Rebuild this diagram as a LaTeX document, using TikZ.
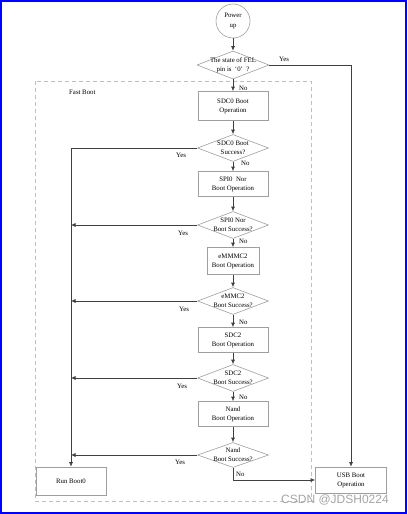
\documentclass[tikz,border=0pt]{standalone}
\usepackage{fontspec}
\setmainfont{Liberation Serif}
\newfontfamily\wmfont{Liberation Sans}
\usetikzlibrary{arrows.meta,shapes.geometric}

\tikzset{
  opbox/.style={draw=gray!75, line width=0.6pt, minimum width=70, minimum height=27,
    inner sep=0pt, align=center, font=\fontsize{6.8}{9}\selectfont},
  decide/.style={diamond, draw=gray!75, line width=0.6pt, shape aspect=2.6, inner sep=-6pt,
    minimum width=71, minimum height=27, align=center, font=\fontsize{6.8}{9}\selectfont},
  lab/.style={font=\fontsize{6.8}{8}\selectfont, inner sep=1pt},
  flow/.style={draw=black!75, line width=0.7pt}
}

\begin{document}
\begin{tikzpicture}[x=1pt,y=-1pt,>={Latex[length=4.5pt,width=4pt]}]
\useasboundingbox (0,0) rectangle (407,514);
\fill[white] (0,0) rectangle (407,514);

% fast boot area
\draw[dashed, dash pattern=on 4pt off 3pt, gray!50, line width=0.6pt] (35,81) rectangle (311,501);
\node[lab, anchor=west] (fast) at (68,92) {Fast Boot};

\node[circle, draw=gray!75, line width=0.6pt, minimum size=34, inner sep=0pt, align=center,
  font=\fontsize{6.8}{10}\selectfont] (power) at (233,21) {Power\\up};
\node[decide, minimum width=72, minimum height=28] (fel) at (233,65) {The state of FEL\\pin is\enspace`0'\enspace?};

\node[opbox, minimum height=29] (sdc0) at (233,106) {SDC0 Boot\\Operation};
\node[decide] (sdc0q) at (233,148) {SDC0 Boot\\Success?};
\node[opbox, minimum height=25] (spi) at (233,184) {SPI0\enspace Nor\\Boot Operation};
\node[decide] (spiq) at (233,225) {SPI0 Nor\\Boot Success?};
\node[opbox, minimum width=52] (emmc) at (233,261) {eMMMC2\\Boot Operation};
\node[decide] (emmcq) at (233,301) {eMMC2\\Boot Success?};
\node[opbox, minimum height=25] (sdc2) at (233,340) {SDC2\\Boot Operation};
\node[decide] (sdc2q) at (233,378) {SDC2\\Boot Success?};
\node[opbox, minimum height=25] (nand) at (233,414) {Nand\\Boot Operation};
\node[decide, minimum height=25] (nandq) at (233,455) {Nand\\Boot Success?};

\node[opbox, minimum height=28] (run) at (71,481) {Run Boot0};
\node[opbox, minimum width=71, minimum height=26] (usb) at (351,480) {USB Boot\\Operation};

% main column
\draw[flow,->] (power) -- (fel);
\draw[flow,->] (fel) -- (sdc0);
\draw[flow,->] (sdc0) -- (sdc0q);
\draw[flow,->] (sdc0q) -- (spi);
\draw[flow,->] (spi) -- (spiq);
\draw[flow,->] (spiq) -- (emmc);
\draw[flow,->] (emmc) -- (emmcq);
\draw[flow,->] (emmcq) -- (sdc2);
\draw[flow,->] (sdc2) -- (sdc2q);
\draw[flow,->] (sdc2q) -- (nand);
\draw[flow,->] (nand) -- (nandq);

% yes branches
\draw[flow,->] (fel.east) -| (usb.north);
\draw[flow,->] (sdc0q.west) -| (run.north);
\draw[flow,->] (spiq.west) -- (spiq.west -| run.north);
\draw[flow,->] (emmcq.west) -- (emmcq.west -| run.north);
\draw[flow,->] (sdc2q.west) -- (sdc2q.west -| run.north);
\draw[flow,->] (nandq.west) -- (nandq.west -| run.north);
\draw[flow,->] (nandq.south) |- (usb.west);

% labels
\node[lab] (yfel) at (284,59) {Yes};
\node[lab, anchor=west] (nfel) at (238,88) {No};
\node[lab] (ysdc0) at (181,155) {Yes};
\node[lab, anchor=west] (nsdc0) at (240,163) {No};
\node[lab] (yspi) at (183,233) {Yes};
\node[lab, anchor=west] (nspi) at (238,241) {No};
\node[lab] (yemmc) at (184,309) {Yes};
\node[lab, anchor=west] (nemmc) at (238,322) {No};
\node[lab] (ysdc2) at (182,386) {Yes};
\node[lab, anchor=west] (nsdc2) at (238,397) {No};
\node[lab] (ynand) at (180,462) {Yes};
\node[lab, anchor=west] (nnand) at (235,474) {No};

% page frame and mark
\node[font=\wmfont\fontsize{12}{12}\selectfont, text=gray!70, anchor=west, inner sep=0pt] (mark) at (281,500) {CSDN @JDSH0224};
\draw[blue, line width=2pt] (1,1) rectangle (406,512.5);
\end{tikzpicture}
\end{document}
